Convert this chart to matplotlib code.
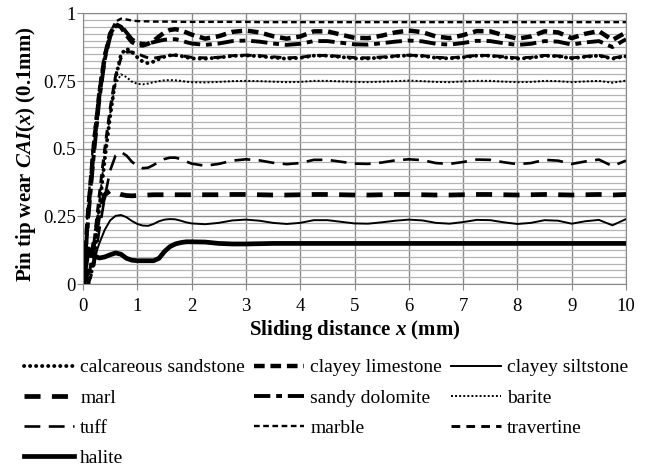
import matplotlib
matplotlib.use("Agg")
import matplotlib.pyplot as plt
from matplotlib.ticker import MultipleLocator, FixedLocator

plt.rcParams["font.family"] = ["Liberation Serif", "DejaVu Serif"]
plt.rcParams["mathtext.fontset"] = "custom"
plt.rcParams["mathtext.rm"] = "Liberation Serif:bold"
plt.rcParams["mathtext.it"] = "Liberation Serif:italic:bold"

# sliding distance (mm)
x = [0.0, 0.1, 0.2, 0.3, 0.4, 0.5, 0.6, 0.7, 0.8, 0.9, 1.0, 1.1, 1.2, 1.3, 1.4,
     1.5, 1.6, 1.7, 1.8, 1.9, 2.0, 2.25, 2.5, 2.75, 3.0, 3.25, 3.5, 3.75, 4.0,
     4.25, 4.5, 4.75, 5.0, 5.25, 5.5, 5.75, 6.0, 6.25, 6.5, 6.75, 7.0, 7.25,
     7.5, 7.75, 8.0, 8.25, 8.5, 8.75, 9.0, 9.25, 9.5, 9.75, 10.0]

# pin tip wear CAI(x) (0.1 mm) per rock
calcareous_sandstone = [
    0.0, 0.0, 0.08, 0.28, 0.46, 0.62, 0.76, 0.85, 0.87, 0.858, 0.838, 0.822,
    0.816, 0.822, 0.832, 0.840, 0.845, 0.846, 0.843, 0.838, 0.834,
    0.833, 0.837, 0.843, 0.845, 0.842, 0.837, 0.833, 0.836, 0.844, 0.844,
    0.839, 0.834, 0.834, 0.837, 0.842, 0.845, 0.843, 0.836, 0.834, 0.838,
    0.844, 0.844, 0.838, 0.833, 0.836, 0.844, 0.842, 0.834, 0.840, 0.844,
    0.833, 0.842]
clayey_limestone = [
    0.0, 0.28, 0.51, 0.70, 0.84, 0.925, 0.96, 0.95, 0.92, 0.895, 0.884, 0.882,
    0.888, 0.899, 0.915, 0.930, 0.939, 0.942, 0.938, 0.930, 0.922,
    0.907, 0.916, 0.932, 0.937, 0.930, 0.916, 0.907, 0.915, 0.934, 0.934,
    0.922, 0.910, 0.909, 0.918, 0.930, 0.937, 0.931, 0.915, 0.909, 0.920,
    0.935, 0.934, 0.919, 0.907, 0.915, 0.934, 0.930, 0.909, 0.925, 0.935,
    0.902, 0.930]
clayey_siltstone = [
    0.0, 0.04, 0.09, 0.15, 0.20, 0.235, 0.252, 0.255, 0.247, 0.233, 0.222,
    0.216, 0.215, 0.222, 0.232, 0.238, 0.240, 0.239, 0.234, 0.228, 0.224,
    0.221, 0.226, 0.235, 0.238, 0.234, 0.226, 0.222, 0.226, 0.236, 0.236,
    0.230, 0.224, 0.223, 0.228, 0.234, 0.238, 0.235, 0.226, 0.223, 0.229,
    0.237, 0.236, 0.228, 0.222, 0.226, 0.236, 0.234, 0.223, 0.232, 0.237,
    0.217, 0.240]
marl = [
    0.0, 0.05, 0.15, 0.26, 0.33, 0.345, 0.338, 0.331, 0.327, 0.326, 0.327,
    0.328, 0.329, 0.330, 0.330, 0.330, 0.330, 0.330, 0.330, 0.330, 0.330,
    0.330, 0.330, 0.331, 0.331, 0.330, 0.329, 0.329, 0.330, 0.331, 0.331,
    0.330, 0.329, 0.329, 0.330, 0.331, 0.331, 0.330, 0.329, 0.329, 0.330,
    0.331, 0.331, 0.330, 0.329, 0.330, 0.331, 0.330, 0.329, 0.330, 0.331,
    0.329, 0.331]
sandy_dolomite = [
    0.0, 0.25, 0.48, 0.68, 0.83, 0.915, 0.955, 0.955, 0.93, 0.905, 0.892,
    0.888, 0.889, 0.894, 0.899, 0.903, 0.905, 0.905, 0.901, 0.894, 0.889,
    0.884, 0.889, 0.898, 0.900, 0.896, 0.889, 0.884, 0.888, 0.898, 0.898,
    0.892, 0.886, 0.885, 0.890, 0.896, 0.900, 0.897, 0.888, 0.885, 0.891,
    0.899, 0.898, 0.890, 0.884, 0.888, 0.898, 0.896, 0.885, 0.893, 0.898,
    0.876, 0.905]
barite = [
    0.0, 0.01, 0.10, 0.30, 0.48, 0.63, 0.74, 0.775, 0.765, 0.748, 0.740,
    0.738, 0.741, 0.746, 0.750, 0.753, 0.754, 0.753, 0.751, 0.748, 0.746,
    0.745, 0.747, 0.750, 0.751, 0.750, 0.748, 0.746, 0.747, 0.751, 0.751,
    0.749, 0.747, 0.746, 0.748, 0.750, 0.752, 0.750, 0.747, 0.746, 0.749,
    0.751, 0.751, 0.748, 0.746, 0.747, 0.751, 0.750, 0.746, 0.749, 0.751,
    0.744, 0.752]
tuff = [
    0.0, 0.0, 0.06, 0.20, 0.32, 0.42, 0.475, 0.488, 0.475, 0.452, 0.436,
    0.428, 0.430, 0.440, 0.452, 0.462, 0.467, 0.467, 0.462, 0.453, 0.445,
    0.437, 0.444, 0.456, 0.461, 0.457, 0.448, 0.443, 0.447, 0.459, 0.459,
    0.452, 0.445, 0.444, 0.449, 0.457, 0.461, 0.458, 0.447, 0.444, 0.451,
    0.460, 0.459, 0.450, 0.443, 0.447, 0.459, 0.456, 0.444, 0.453, 0.460,
    0.436, 0.456]
marble = [
    0.0, 0.31, 0.55, 0.73, 0.855, 0.93, 0.97, 0.981, 0.978, 0.974, 0.972,
    0.971, 0.971, 0.970, 0.970, 0.970, 0.970, 0.970, 0.969, 0.969, 0.969,
    0.969, 0.969, 0.969, 0.969, 0.968, 0.968, 0.968, 0.968, 0.968, 0.968,
    0.968, 0.968, 0.968, 0.968, 0.968, 0.968, 0.968, 0.968, 0.968, 0.968,
    0.968, 0.968, 0.968, 0.968, 0.968, 0.968, 0.968, 0.968, 0.968, 0.968,
    0.968, 0.968]
travertine = [
    0.0, 0.02, 0.15, 0.33, 0.50, 0.65, 0.77, 0.835, 0.857, 0.858, 0.852,
    0.843, 0.836, 0.835, 0.838, 0.842, 0.845, 0.846, 0.844, 0.841, 0.838,
    0.836, 0.838, 0.844, 0.846, 0.844, 0.840, 0.836, 0.838, 0.845, 0.845,
    0.841, 0.837, 0.836, 0.839, 0.843, 0.846, 0.844, 0.838, 0.836, 0.840,
    0.845, 0.845, 0.840, 0.836, 0.838, 0.845, 0.843, 0.836, 0.841, 0.845,
    0.835, 0.844]
halite = [
    0.0, 0.13, 0.105, 0.096, 0.100, 0.108, 0.115, 0.110, 0.095, 0.088, 0.086,
    0.086, 0.086, 0.086, 0.095, 0.120, 0.138, 0.148, 0.153, 0.156, 0.156,
    0.155, 0.150, 0.148, 0.148, 0.149, 0.150, 0.150, 0.150, 0.150, 0.150,
    0.150, 0.150, 0.150, 0.150, 0.150, 0.150, 0.150, 0.150, 0.150, 0.150,
    0.150, 0.150, 0.150, 0.150, 0.150, 0.150, 0.150, 0.150, 0.150, 0.150,
    0.150, 0.150]

# (label, values, linewidth, dash pattern, capstyle)
series = [
    ("calcareous sandstone", calcareous_sandstone, 2.8, (0, (0.05, 1.5)), "round"),
    ("clayey limestone", clayey_limestone, 3.2, (0, (2.4, 1.3)), "butt"),
    ("clayey siltstone", clayey_siltstone, 1.4, "-", "butt"),
    ("marl", marl, 3.4, (0, (3.4, 2.4)), "butt"),
    ("sandy dolomite", sandy_dolomite, 2.8, (0, (4.2, 1.5, 1.5, 1.5)), "butt"),
    ("barite", barite, 1.4, (0, (1, 1.1)), "butt"),
    ("tuff", tuff, 1.9, (0, (6, 3.2)), "butt"),
    ("marble", marble, 1.7, (0, (2.4, 1.5)), "butt"),
    ("travertine", travertine, 2.1, (0, (3.0, 2.1)), "butt"),
    ("halite", halite, 3.4, "-", "butt"),
]

fig = plt.figure(figsize=(6.46, 4.73), dpi=100)
ax = fig.add_axes([83 / 646, 1 - 284 / 473, 543 / 646, 270.5 / 473])

handles = {}
for label, y, lw, ls, cap in series:
    (line,) = ax.plot(x, y, color="black", lw=lw, linestyle=ls,
                      dash_capstyle=cap, solid_joinstyle="round", label=label)
    handles[label] = line

ax.set_xlim(0, 10)
ax.set_ylim(0, 1)
ax.xaxis.set_major_locator(MultipleLocator(1))
ax.yaxis.set_major_locator(FixedLocator([0, 0.25, 0.5, 0.75, 1]))
ax.set_yticklabels(["0", "0.25", "0.5", "0.75", "1"])
ax.yaxis.set_minor_locator(MultipleLocator(0.025))
ax.tick_params(axis="y", which="minor", length=0)
ax.tick_params(which="major", direction="out", length=4, color="#888888",
               labelsize=13.5)
ax.tick_params(axis="x", which="major", pad=6)
ax.tick_params(axis="y", which="major", pad=1)

ax.grid(True, which="major", color="#8a8a8a", lw=1.0)
ax.grid(True, which="minor", axis="y", color="#b4b4b4", lw=0.9)
ax.set_axisbelow(True)
for s in ax.spines.values():
    s.set_color("#8a8a8a")

ax.set_xlabel(r"Sliding distance $x$ (mm)", fontsize=15, fontweight="bold",
              labelpad=2)
ax.set_ylabel(r"Pin tip wear $CAI(x)$ (0.1mm)", fontsize=15,
              fontweight="bold", labelpad=4)
ax.yaxis.label.set_y(0.48)

# legend filled row by row in three columns
order = ["calcareous sandstone", "marl", "tuff", "halite",
         "clayey limestone", "sandy dolomite", "marble",
         "clayey siltstone", "barite", "travertine"]
fig.legend([handles[k] for k in order], order, loc="upper left",
           bbox_to_anchor=(20 / 646, 1 - 355 / 473), ncol=3, frameon=False,
           fontsize=14, handlelength=2.6, handletextpad=0.3,
           columnspacing=0.45, labelspacing=0.64, borderaxespad=0,
           borderpad=0.2)

fig.savefig("out.png", dpi=100)
